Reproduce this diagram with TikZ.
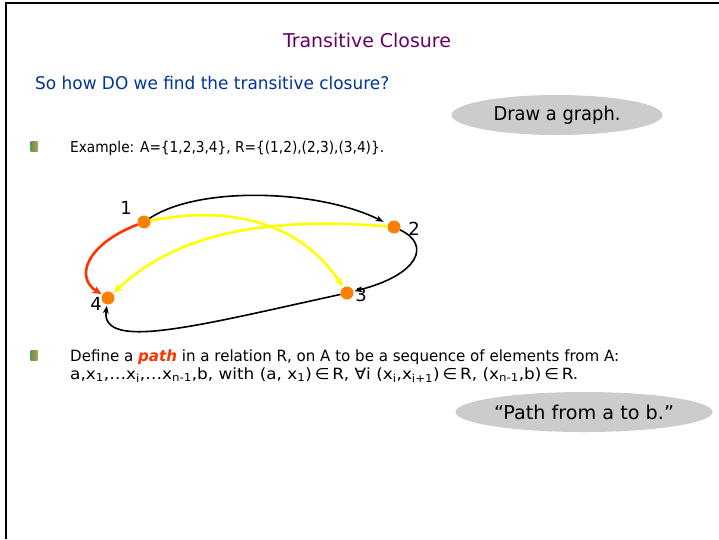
\documentclass[tikz,border=0pt]{standalone}
\usepackage{fontspec}
\setmainfont{DejaVu Sans}
\usetikzlibrary{arrows.meta,shapes.geometric}
\definecolor{ttl}{RGB}{102,0,102}
\definecolor{qblue}{RGB}{0,51,153}
\definecolor{vorange}{RGB}{255,128,0}
\definecolor{ered}{RGB}{255,51,0}
\definecolor{eyel}{RGB}{255,255,0}
\definecolor{bubble}{RGB}{204,204,204}
\definecolor{bgreen}{RGB}{90,150,90}
\definecolor{btan}{RGB}{200,150,70}
% #1 width, #2 font size, #3 text
\newcommand{\fitw}[3]{\resizebox{#1pt}{\height}{\fontsize{#2}{#2}\selectfont #3}}
\begin{document}
\begin{tikzpicture}[x=1pt,y=-1pt,
  txt/.style={anchor=base west,inner sep=0pt},
  vtx/.style={circle,fill=vorange,minimum size=13pt,inner sep=0pt},
  vlabel/.style={inner sep=0pt,font=\fontsize{18}{20}\selectfont},
  bubblebox/.style={ellipse,fill=bubble,inner sep=0pt},
  bulletbox/.style={inner sep=0pt,minimum width=7pt,minimum height=10pt,left color=bgreen,right color=btan},
  blk/.style={black,line width=1.6pt,-{Stealth[length=8pt,width=6pt]}},
  yel/.style={eyel,line width=2.6pt,-{Stealth[length=9pt,width=8pt]}},
  redl/.style={ered,line width=2.6pt,-{Stealth[length=9pt,width=8pt]}}]
\useasboundingbox (0,0) rectangle (719,539);
\fill[white] (0,0) rectangle (719,539);
\draw[line width=2pt] (6,539) -- (6,3) -- (719,3);

\node[inner sep=0pt,anchor=base,text=ttl] (title) at (367,47) {\fitw{168}{19}{Transitive Closure}};
\node[txt,text=qblue] (q) at (35,89) {\fitw{354}{17.5}{So how DO we find the transitive closure?}};

\node[bubblebox,minimum width=211pt,minimum height=40pt] (b1) at (557,115) {};
\node[inner sep=0pt] (b1t) at (557,115) {\fitw{127}{19}{Draw a graph.}};

\node[bulletbox] (bul1) at (34,146) {};
\node[txt] (ex) at (70,152) {\fitw{314}{15}{Example: A=\{1,2,3,4\}, R=\{(1,2),(2,3),(3,4)\}.}};

\node[vtx] (n1) at (144,222) {};
\node[vtx] (n2) at (394,227) {};
\node[vtx] (n3) at (347,293) {};
\node[vtx] (n4) at (108,298) {};
\node[vlabel] (l1) at (126,208) {1};
\node[vlabel] (l2) at (414,229) {2};
\node[vlabel] (l3) at (361,295) {3};
\node[vlabel] (l4) at (96,304) {4};

\draw[yel,shorten >=1pt] (n1) .. controls (230,205) and (300,222) .. (n3);
\draw[yel,shorten >=1pt] (n2) .. controls (250,215) and (170,240) .. (n4);
\draw[redl,shorten >=1pt] (n1) .. controls (85,245) and (75,278) .. (n4);
\draw[blk,shorten >=5pt] (n1) .. controls (200,185) and (320,190) .. (n2);
\draw[blk,shorten >=1pt] (n2) .. controls (432,245) and (418,275) .. (n3);
\draw[blk,shorten >=1pt] (n3) .. controls (200,325) and (100,352) .. (n4);

\node[bulletbox] (bul2) at (34,355) {};
\node[txt] (def1) at (70,361) {\fitw{549}{15.5}{Define a \textcolor{ered}{\textbf{\textit{path}}} in a relation R, on A to be a sequence of elements from A:}};
\node[txt] (def2) at (70,379) {\fitw{508}{15.5}{a,x\textsubscript{1},…x\textsubscript{i},…x\textsubscript{n-1},b, with (a, x\textsubscript{1})\,∈\,R, ∀i (x\textsubscript{i},x\textsubscript{i+1})\,∈\,R, (x\textsubscript{n-1},b)\,∈\,R.}};

\node[bubblebox,minimum width=257pt,minimum height=40pt] (b2) at (584,412) {};
\node[inner sep=0pt] (b2t) at (584,412) {\fitw{180}{19}{“Path from a to b.”}};
\end{tikzpicture}
\end{document}
